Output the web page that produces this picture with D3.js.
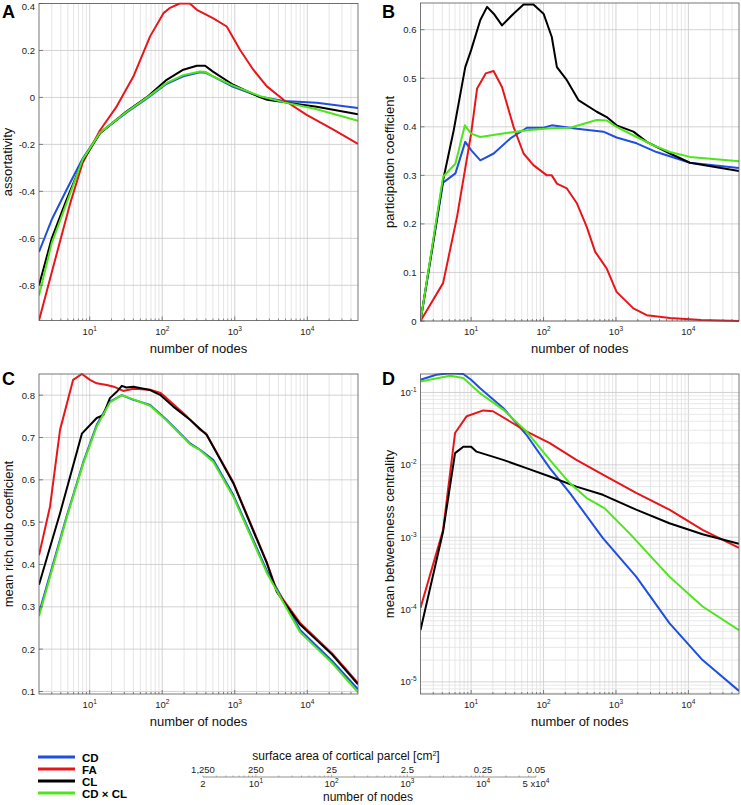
<!DOCTYPE html>
<html><head><meta charset="utf-8">
<script src="https://cdn.jsdelivr.net/npm/d3@7"></script>
<style>body{margin:0;background:#fff}svg{display:block;font-family:"Liberation Sans",Arial,sans-serif}</style>
</head><body>
<svg id="c" width="741" height="805"></svg>
<script>
// ---------- DATA ----------
const seriesNames = ["CD","FA","CL","CD \u00d7 CL"];
const seriesColors = ["#1f4fe0","#e8161b","#000000","#4fe51c"];

// Panel A: assortativity  [nodes, value]
const A_CD = [[2,-0.658],[3,-0.52],[4.8,-0.393],[8,-0.26],[13.9,-0.15],[32,-0.065],[61,-0.005],[115,0.058],[195,0.09],[330,0.107],[400,0.105],[500,0.09],[950,0.045],[2250,0.003],[4700,-0.015],[13500,-0.023],[50000,-0.045]];
const A_FA = [[2,-0.95],[3.15,-0.72],[5.4,-0.45],[8,-0.278],[13.9,-0.14],[23.6,-0.038],[40,0.089],[68,0.26],[104,0.359],[126,0.38],[174,0.40],[240,0.40],[300,0.373],[500,0.338],[775,0.302],[1180,0.203],[1800,0.118],[2770,0.047],[4700,-0.01],[9800,-0.074],[22900,-0.137],[50000,-0.198]];
const A_CL = [[2,-0.8],[3,-0.6],[4.8,-0.435],[8,-0.27],[13.9,-0.152],[32,-0.06],[61,0.0],[115,0.075],[195,0.118],[300,0.135],[390,0.135],[500,0.11],[950,0.054],[2250,0.0],[2800,-0.01],[4700,-0.02],[13500,-0.04],[50000,-0.072]];
const A_CDCL = [[2,-0.844],[3,-0.62],[4.8,-0.45],[8,-0.265],[13.9,-0.15],[32,-0.062],[61,-0.002],[115,0.062],[195,0.095],[330,0.11],[400,0.108],[500,0.09],[950,0.05],[2250,0.005],[4700,-0.02],[13500,-0.05],[50000,-0.1]];

// Panel B: participation coefficient
const B_CD = [[2,0],[4.1,0.285],[6.07,0.304],[8.3,0.369],[10,0.352],[13.4,0.331],[20.5,0.345],[34.8,0.376],[59,0.398],[100,0.398],[130,0.403],[290,0.396],[670,0.39],[1020,0.378],[1930,0.366],[3630,0.348],[10500,0.326],[50000,0.315]];
const B_FA = [[2,0],[4.1,0.078],[6.4,0.215],[10,0.386],[12.1,0.479],[15.9,0.51],[20.4,0.515],[26.7,0.482],[38.5,0.40],[53,0.345],[72.5,0.321],[111,0.30],[130,0.30],[153,0.283],[210,0.273],[290,0.242],[395,0.194],[515,0.143],[746,0.108],[1020,0.06],[1740,0.026],[2660,0.012],[5560,0.006],[15000,0.002],[50000,0.0]];
const B_CL = [[2,0],[4.1,0.29],[5.75,0.393],[8.3,0.523],[10,0.558],[13.4,0.62],[16.6,0.647],[20.5,0.633],[26.7,0.609],[38.5,0.633],[53,0.652],[72.5,0.652],[100,0.633],[130,0.585],[153,0.523],[210,0.496],[303,0.455],[543,0.431],[746,0.42],[1020,0.403],[1740,0.39],[2660,0.369],[5560,0.345],[10500,0.326],[50000,0.309]];
const B_CDCL = [[2,0],[4.1,0.297],[6.07,0.324],[8.2,0.403],[10,0.386],[13.4,0.379],[27.5,0.386],[59,0.393],[125,0.397],[233,0.398],[543,0.414],[746,0.413],[1020,0.40],[1930,0.379],[3270,0.362],[5560,0.348],[10500,0.338],[50000,0.329]];

// Panel C: mean rich club coefficient
const C_CD = [[2,0.285],[4.8,0.513],[8.2,0.643],[12.5,0.73],[19,0.785],[27.7,0.80],[40,0.789],[68,0.777],[115,0.742],[242,0.686],[333,0.671],[507,0.647],[955,0.564],[2770,0.385],[7950,0.245],[22000,0.172],[50000,0.105]];
const C_FA = [[2,0.422],[2.84,0.537],[3.9,0.718],[5.9,0.836],[7.8,0.85],[10.1,0.836],[12.5,0.828],[17.2,0.824],[21.5,0.82],[29,0.81],[40,0.815],[68,0.813],[95,0.805],[115,0.793],[218,0.75],[333,0.718],[400,0.71],[955,0.594],[2770,0.405],[3800,0.338],[7950,0.262],[22000,0.19],[50000,0.12]];
const C_CL = [[2,0.352],[3.9,0.521],[7.8,0.709],[12.5,0.746],[15.4,0.753],[19,0.793],[23.6,0.808],[27.7,0.822],[32,0.818],[40,0.82],[68,0.812],[95,0.80],[142,0.773],[242,0.742],[411,0.706],[955,0.592],[2770,0.403],[3800,0.335],[7950,0.258],[22000,0.187],[50000,0.117]];
const C_CDCL = [[2,0.278],[4.8,0.51],[8.2,0.64],[12.5,0.726],[19,0.783],[27.7,0.80],[40,0.79],[68,0.775],[115,0.74],[242,0.684],[333,0.67],[507,0.642],[955,0.56],[2770,0.38],[7950,0.24],[22000,0.167],[50000,0.098]];

// Panel D: mean betweenness centrality
const D_CD = [[2,0.15],[3.3,0.176],[5.1,0.185],[7.8,0.18],[10,0.15],[13.2,0.115],[27.7,0.061],[58,0.026],[122,0.009],[230,0.0041],[660,0.00097],[1900,0.000285],[5470,0.000065],[15700,0.00002],[50000,0.0000075]];
const D_FA = [[2,0.000105],[4.1,0.00126],[6,0.0275],[8.7,0.047],[14.7,0.0565],[20,0.055],[34,0.04],[58,0.029],[122,0.02],[284,0.0117],[660,0.0073],[1900,0.0041],[5470,0.0024],[15700,0.00126],[50000,0.00071]];
const D_CL = [[2,0.000052],[4.1,0.0012],[6,0.0145],[7.8,0.0178],[10,0.0178],[11.9,0.0152],[27.7,0.0117],[58,0.009],[122,0.0069],[284,0.005],[660,0.00385],[1900,0.0024],[5470,0.00156],[15700,0.0011],[50000,0.00081]];
const D_CDCL = [[2,0.142],[5.1,0.17],[7.8,0.158],[13.2,0.098],[27.7,0.058],[58,0.029],[122,0.0117],[230,0.0056],[390,0.0035],[700,0.0025],[1540,0.00113],[5470,0.000285],[15700,0.00011],[50000,0.000052]];

// tick labels
const yTicksA = [-0.8,-0.6,-0.4,-0.2,0,0.2,0.4];
const yTicksB = [0,0.1,0.2,0.3,0.4,0.5,0.6];
const yTicksC = [0.1,0.2,0.3,0.4,0.5,0.6,0.7,0.8];
const yTicksD = [-5,-4,-3,-2,-1]; // exponents
const xTickExps = [1,2,3,4];
const areaLabels = ["1,250","250","25","2.5","0.25","0.05"];
const areaNodes = [2,10,100,1000,10000,50000];

// ---------- DRAW ----------
const svg = d3.select("#c");
const panels = [
  {id:"A", l:39, r:358, t:3.5, b:320.5, y:"lin", dom:[-0.95,0.4], ticks:yTicksA, title:"assortativity", data:[A_CD,A_FA,A_CL,A_CDCL], lx:2, ly:18, tx:12},
  {id:"B", l:420.5, r:739, t:3, b:321, y:"lin", dom:[0,0.655], ticks:yTicksB, title:"participation coefficient", data:[B_CD,B_FA,B_CL,B_CDCL], lx:382, ly:18, tx:394},
  {id:"C", l:39, r:358, t:374, b:694, y:"lin", dom:[0.094,0.85], ticks:yTicksC, title:"mean rich club coefficient", data:[C_CD,C_FA,C_CL,C_CDCL], lx:2, ly:385, tx:13},
  {id:"D", l:420.5, r:739, t:374, b:694, y:"log", dom:[6.8e-6,0.18], ticks:yTicksD, title:"mean betweenness centrality", data:[D_CD,D_FA,D_CL,D_CDCL], lx:382, ly:385, tx:394}
];

panels.forEach(p=>{
  const g = svg.append("g");
  const x = d3.scaleLog().domain([2,50000]).range([p.l,p.r]);
  const y = (p.y==="lin"?d3.scaleLinear():d3.scaleLog()).domain(p.dom).range([p.b,p.t]);
  const xg = [];
  for(let k=0;k<=4;k++) for(let m=1;m<=9;m++){const v=m*Math.pow(10,k); if(v>2&&v<50000) xg.push(v);}
  g.selectAll(null).data(xg).join("line")
    .attr("x1",d=>x(d)).attr("x2",d=>x(d)).attr("y1",p.t).attr("y2",p.b)
    .attr("stroke",d=>Math.log10(d)%1===0?"#c8c8c8":"#e0e0e0").attr("stroke-width",0.8);
  let yg;
  if(p.y==="lin") yg = p.ticks.map(v=>({v,major:true}));
  else { yg=[]; for(let k=-6;k<=-1;k++) for(let m=1;m<=9;m++){const v=m*Math.pow(10,k); if(v>p.dom[0]&&v<p.dom[1]) yg.push({v,major:m===1});} }
  g.selectAll(null).data(yg).join("line")
    .attr("x1",p.l).attr("x2",p.r).attr("y1",d=>y(d.v)).attr("y2",d=>y(d.v))
    .attr("stroke",d=>d.major?"#c8c8c8":"#e2e2e2").attr("stroke-width",0.8);
  const cid="clip"+p.id;
  svg.append("clipPath").attr("id",cid).append("rect").attr("x",p.l).attr("y",p.t-1).attr("width",p.r-p.l).attr("height",p.b-p.t+2);
  const line = d3.line().x(d=>x(d[0])).y(d=>y(d[1]));
  const lg = g.append("g").attr("clip-path",`url(#${cid})`);
  [0,1,2,3].forEach(i=>{
    lg.append("path").datum(p.data[i]).attr("d",line).attr("fill","none")
      .attr("stroke",seriesColors[i]).attr("stroke-width",2).attr("stroke-linejoin","round");
  });
  g.append("rect").attr("x",p.l).attr("y",p.t).attr("width",p.r-p.l).attr("height",p.b-p.t)
    .attr("fill","none").attr("stroke","#555").attr("stroke-width",0.8);
  g.selectAll(null).data(xg).join("line")
    .attr("x1",d=>x(d)).attr("x2",d=>x(d)).attr("y1",p.b).attr("y2",d=>p.b-(Math.log10(d)%1===0?4:2))
    .attr("stroke","#555").attr("stroke-width",0.7);
  xTickExps.forEach(e=>{
    const t=g.append("text").attr("x",x(Math.pow(10,e))).attr("y",p.b+14).attr("text-anchor","middle")
      .attr("font-size",9.5).attr("fill","#222");
    t.text("10");
    t.append("tspan").attr("dy",-4).attr("font-size",6.5).text(e);
  });
  if(p.y==="lin"){
    p.ticks.forEach(v=>{
      g.append("text").attr("x",p.l-4).attr("y",Math.max(y(v)+3.5,9.5)).attr("text-anchor","end")
        .attr("font-size",9.5).attr("fill","#222").text(v===0?"0":String(+v.toFixed(1)));
      g.append("line").attr("x1",p.l).attr("x2",p.l+4).attr("y1",y(v)).attr("y2",y(v)).attr("stroke","#555").attr("stroke-width",0.7);
    });
  } else {
    p.ticks.forEach(e=>{
      const t=g.append("text").attr("x",p.l-4).attr("y",y(Math.pow(10,e))+3.5).attr("text-anchor","end")
        .attr("font-size",9.5).attr("fill","#222");
      t.text("10");
      t.append("tspan").attr("dy",-4).attr("font-size",6.5).text(String(e));
    });
  }
  g.append("text").attr("x",(p.l+p.r)/2).attr("y",p.b+32).attr("text-anchor","middle")
    .attr("font-size",13).attr("fill","#111").text("number of nodes");
  g.append("text").attr("transform",`translate(${p.tx},${(p.t+p.b)/2}) rotate(-90)`).attr("text-anchor","middle")
    .attr("font-size",13).attr("fill","#111").text(p.title);
  g.append("text").attr("x",p.lx).attr("y",p.ly).attr("font-size",18).attr("font-weight","bold").text(p.id);
});

// legend
const leg = svg.append("g");
seriesNames.forEach((n,i)=>{
  const yy = 757 + i*12;
  leg.append("line").attr("x1",38).attr("x2",75).attr("y1",yy).attr("y2",yy).attr("stroke",seriesColors[i]).attr("stroke-width",3.2);
  leg.append("text").attr("x",82).attr("y",yy+4.5).attr("font-size",11.5).attr("font-weight","bold").text(n);
});

// bottom dual scale
const bs = d3.scaleLog().domain([2,50000]).range([203,536]);
const sg = svg.append("g");
sg.append("text").attr("x",346).attr("y",760).attr("text-anchor","middle").attr("font-size",12).attr("fill","#111")
  .call(t=>{t.text("surface area of cortical parcel [cm"); t.append("tspan").attr("dy",-4).attr("font-size",7).text("2"); t.append("tspan").attr("dy",4).text("]");});
sg.append("line").attr("x1",bs(2)).attr("x2",bs(50000)).attr("y1",777).attr("y2",777).attr("stroke","#777").attr("stroke-width",0.8);
const bt=[]; for(let k=0;k<=4;k++) for(let m=1;m<=9;m++){const v=m*Math.pow(10,k); if(v>=2&&v<=50000) bt.push(v);}
sg.selectAll(null).data(bt).join("line").attr("x1",d=>bs(d)).attr("x2",d=>bs(d)).attr("y1",777).attr("y2",d=>777-(Math.log10(d)%1===0?2.5:1.5)).attr("stroke","#777").attr("stroke-width",0.6);
areaLabels.forEach((lab,i)=>{
  sg.append("text").attr("x",bs(areaNodes[i])).attr("y",773).attr("text-anchor","middle").attr("font-size",9.5).attr("fill","#222").text(lab);
});
areaNodes.forEach((n,i)=>{
  const t=sg.append("text").attr("x",bs(n)).attr("y",787).attr("text-anchor","middle").attr("font-size",9.5).attr("fill","#222");
  if(i===0) t.text("2");
  else if(i===areaNodes.length-1){ t.text("5 x10"); t.append("tspan").attr("dy",-4).attr("font-size",6.5).text("4"); }
  else { t.text("10"); t.append("tspan").attr("dy",-4).attr("font-size",6.5).text(String(Math.log10(n))); }
});
sg.append("text").attr("x",368).attr("y",801).attr("text-anchor","middle").attr("font-size",12).attr("fill","#111").text("number of nodes");
</script>
</body></html>
